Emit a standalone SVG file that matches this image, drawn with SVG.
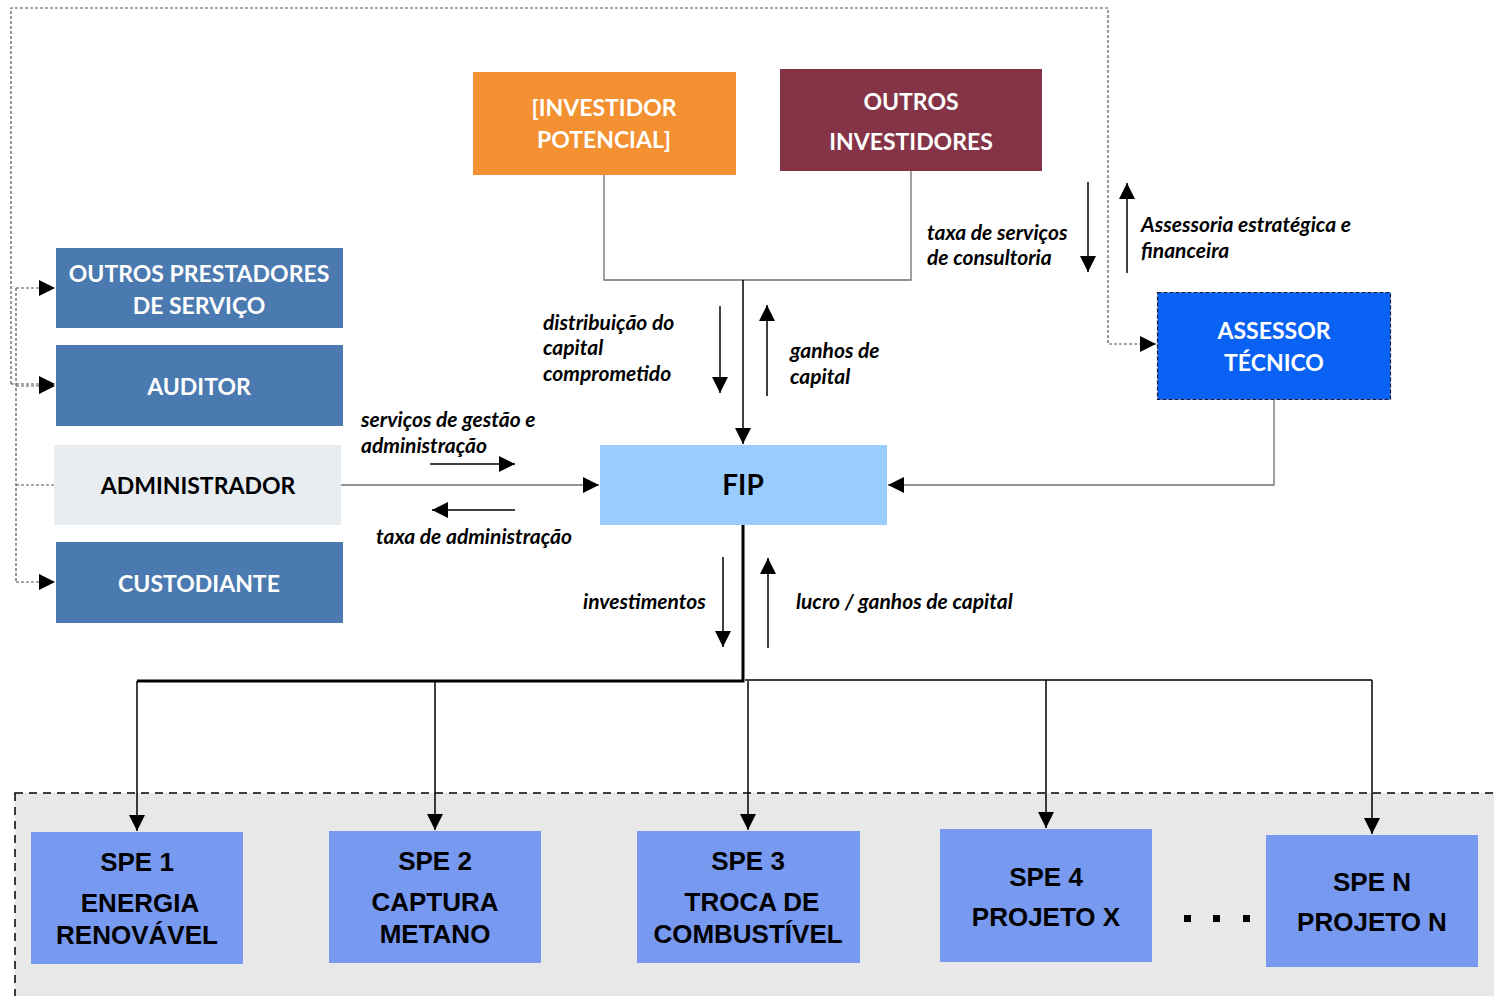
<svg xmlns="http://www.w3.org/2000/svg" width="1494" height="996" viewBox="0 0 1494 996">
<defs>
<style>
.bt{font-family:Lato,"Liberation Sans",sans-serif;font-weight:bold;font-size:23px;fill:#fff;text-anchor:middle}
.dk{fill:#000}
.big{font-size:28px}
.lb{font-family:Lato,"Liberation Sans",sans-serif;font-weight:bold;font-style:italic;font-size:21px;fill:#000}
.sp{font-family:"Liberation Sans",Arial,sans-serif;font-weight:bold;font-size:26px;fill:#000;text-anchor:middle}
.ln{fill:none;stroke:#000;stroke-width:1.5}
.gl{fill:none;stroke:#707070;stroke-width:1.3}
.dt{fill:none;stroke:#555;stroke-width:1.2;stroke-dasharray:3,2}
</style>
<marker id="ab" viewBox="0 0 10 10" refX="10" refY="5" markerWidth="16" markerHeight="16" markerUnits="userSpaceOnUse" orient="auto"><path d="M0,0L10,5L0,10z" fill="#000"/></marker>
</defs>
<rect width="1494" height="996" fill="#fff"/>
<g id="spe-container"><rect x="15" y="793" width="1490" height="215" fill="#E8E8E8" stroke="#000" stroke-width="1.5" stroke-dasharray="8,6"/></g>

<g id="connectors">
<path class="dt" d="M11,384V8H1108V344H1156" marker-end="url(#ab)"/>
<path class="dt" d="M11,384H55" marker-end="url(#ab)"/>
<path class="dt" d="M16,288V582"/>
<path class="dt" d="M16,288H55" marker-end="url(#ab)"/>
<path class="dt" d="M16,386H55" marker-end="url(#ab)"/>
<path class="dt" d="M16,485H54"/>
<path class="dt" d="M16,582H55" marker-end="url(#ab)"/>
<path class="gl" d="M604,175V280H911V171"/>
<path class="ln" d="M743,280V444" marker-end="url(#ab)"/>
<path class="gl" d="M341,485H599" marker-end="url(#ab)"/>
<path class="gl" d="M1274,400V485H888" marker-end="url(#ab)"/>
<path d="M743,525V681H137" fill="none" stroke="#000" stroke-width="3"/>
<path class="ln" d="M745,680H1372"/>
<path class="ln" d="M137,681V831" marker-end="url(#ab)"/>
<path class="ln" d="M435,681V830" marker-end="url(#ab)"/>
<path class="ln" d="M748,681V830" marker-end="url(#ab)"/>
<path class="ln" d="M1046,680V828" marker-end="url(#ab)"/>
<path class="ln" d="M1372,680V834" marker-end="url(#ab)"/>
<path class="ln" d="M720,306V393" marker-end="url(#ab)"/>
<path class="ln" d="M767,396V305" marker-end="url(#ab)"/>
<path class="ln" d="M430,464H515" marker-end="url(#ab)"/>
<path class="ln" d="M515,510H432" marker-end="url(#ab)"/>
<path class="ln" d="M723,557V647" marker-end="url(#ab)"/>
<path class="ln" d="M768,648V558" marker-end="url(#ab)"/>
<path class="ln" d="M1088,182V272" marker-end="url(#ab)"/>
<path class="ln" d="M1127,273V183" marker-end="url(#ab)"/>
</g>

<g id="outros-prestadores"><rect x="56" y="248" width="287" height="80" fill="#4A7AB0"/><text class="bt" x="199" y="282">OUTROS PRESTADORES</text><text class="bt" x="199" y="314">DE SERVIÇO</text></g>
<g id="auditor"><rect x="56" y="345" width="287" height="81" fill="#4A7AB0"/><text class="bt" x="199" y="395">AUDITOR</text></g>
<g id="administrador"><rect x="54" y="445" width="287" height="80" fill="#E8EDF2"/><text class="bt dk" x="198" y="494">ADMINISTRADOR</text></g>
<g id="custodiante"><rect x="56" y="542" width="287" height="81" fill="#4A7AB0"/><text class="bt" x="199" y="592">CUSTODIANTE</text></g>
<g id="investidor-potencial"><rect x="473" y="72" width="263" height="103" fill="#F39031"/><text class="bt" x="604" y="116">[INVESTIDOR</text><text class="bt" x="604" y="148">POTENCIAL]</text></g>
<g id="outros-investidores"><rect x="780" y="69" width="262" height="102" fill="#843446"/><text class="bt" x="911" y="110">OUTROS</text><text class="bt" x="911" y="150">INVESTIDORES</text></g>
<g id="fip"><rect x="600" y="445" width="287" height="80" fill="#99CCFF"/><text class="bt dk big" x="743" y="495">FIP</text></g>
<g id="assessor-tecnico"><rect x="1157.5" y="292.5" width="233" height="107" fill="#0A62F5" stroke="#1a1a3a" stroke-width="1.2" stroke-dasharray="4,2"/><text class="bt" x="1274" y="339">ASSESSOR</text><text class="bt" x="1274" y="371">TÉCNICO</text></g>

<g id="spe1"><rect x="31" y="832" width="212" height="132" fill="#7899F0"/><text class="sp" x="137" y="871">SPE 1</text><text class="sp" x="140" y="912">ENERGIA</text><text class="sp" x="137" y="944">RENOVÁVEL</text></g>
<g id="spe2"><rect x="329" y="831" width="212" height="132" fill="#7899F0"/><text class="sp" x="435" y="870">SPE 2</text><text class="sp" x="435" y="911">CAPTURA</text><text class="sp" x="435" y="943">METANO</text></g>
<g id="spe3"><rect x="637" y="831" width="223" height="132" fill="#7899F0"/><text class="sp" x="748" y="870">SPE 3</text><text class="sp" x="752" y="911">TROCA DE</text><text class="sp" x="748" y="943">COMBUSTÍVEL</text></g>
<g id="spe4"><rect x="940" y="829" width="212" height="133" fill="#7899F0"/><text class="sp" x="1046" y="886">SPE 4</text><text class="sp" x="1046" y="926">PROJETO X</text></g>
<g id="spen"><rect x="1266" y="835" width="212" height="132" fill="#7899F0"/><text class="sp" x="1372" y="891">SPE N</text><text class="sp" x="1372" y="931">PROJETO N</text></g>
<g id="dots" fill="#000"><rect x="1184" y="915" width="7" height="7"/><rect x="1213" y="915" width="7" height="7"/><rect x="1243" y="915" width="7" height="7"/></g>

<g id="labels">
<text class="lb" x="543" y="330">distribuição do</text>
<text class="lb" x="543" y="355">capital</text>
<text class="lb" x="543" y="381">comprometido</text>
<text class="lb" x="790" y="358">ganhos de</text>
<text class="lb" x="790" y="384">capital</text>
<text class="lb" x="361" y="427">serviços de gestão e</text>
<text class="lb" x="361" y="453">administração</text>
<text class="lb" x="376" y="544">taxa de administração</text>
<text class="lb" x="927" y="240">taxa de serviços</text>
<text class="lb" x="927" y="265">de consultoria</text>
<text class="lb" x="1141" y="232">Assessoria estratégica e</text>
<text class="lb" x="1141" y="258">financeira</text>
<text class="lb" x="583" y="609">investimentos</text>
<text class="lb" x="796" y="609">lucro / ganhos de capital</text>
</g>
</svg>
